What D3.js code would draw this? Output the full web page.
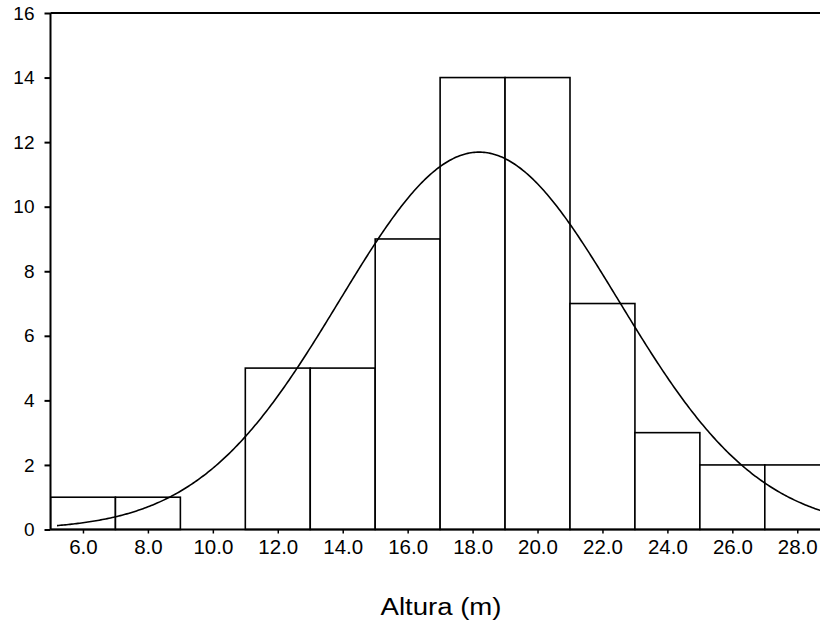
<!DOCTYPE html>
<html>
<head>
<meta charset="utf-8">
<script src="https://cdn.jsdelivr.net/npm/d3@7"></script>
<style>
  html, body { margin: 0; padding: 0; background: #fff; }
  svg { display: block; font-family: "Liberation Sans", Arial, sans-serif; }
</style>
</head>
<body>
<svg id="chart" width="820" height="625"></svg>
<script>
// Histogram bins of tree height (m): lower edge, upper edge, count
const binStarts = [5, 7, 9, 11, 13, 15, 17, 19, 21, 23, 25, 27];
const binEnds   = [7, 9, 11, 13, 15, 17, 19, 21, 23, 25, 27, 29];
const counts    = [1, 1, 0, 5, 5, 9, 14, 14, 7, 3, 2, 2];

// Fitted normal curve parameters
const curveMean = 18.2;
const curveSd = 4.3;
const curveN = 63;
const curveStart = 5.2;

const xTicks = [6, 8, 10, 12, 14, 16, 18, 20, 22, 24, 26, 28];
const yTicks = [0, 2, 4, 6, 8, 10, 12, 14, 16];
const xTitle = "Altura (m)";

const svg = d3.select("#chart");
const plotLeft = 50.5, plotRight = 820, plotTop = 13, plotBottom = 529.5;

const x = d3.scaleLinear().domain([5, 28.7]).range([plotLeft, plotRight]);
const y = d3.scaleLinear().domain([0, 16]).range([plotBottom, plotTop]);

svg.append("defs").append("clipPath").attr("id", "plot")
  .append("rect").attr("x", plotLeft).attr("y", plotTop - 2)
  .attr("width", plotRight - plotLeft).attr("height", plotBottom - plotTop + 4);

const plot = svg.append("g").attr("clip-path", "url(#plot)");

// Bars
const bins = counts.map((c, i) => ({ x0: binStarts[i], x1: binEnds[i], n: c }));
plot.selectAll("rect.bar").data(bins.filter(d => d.n > 0)).join("rect")
  .attr("class", "bar")
  .attr("x", d => x(d.x0))
  .attr("y", d => y(d.n))
  .attr("width", d => x(d.x1) - x(d.x0))
  .attr("height", d => y(0) - y(d.n))
  .attr("fill", "#fff")
  .attr("stroke", "#000")
  .attr("stroke-width", 1.6);

// Normal curve scaled to counts per bin
const binWidth = 2;
const normal = v => curveN * binWidth / (curveSd * Math.sqrt(2 * Math.PI)) *
  Math.exp(-0.5 * Math.pow((v - curveMean) / curveSd, 2));
const xs = d3.range(curveStart, 29.01, 0.05);
plot.append("path")
  .datum(xs)
  .attr("fill", "none")
  .attr("stroke", "#000")
  .attr("stroke-width", 1.6)
  .attr("d", d3.line().x(v => x(v)).y(v => y(normal(v))));

// Top frame line
svg.append("line")
  .attr("x1", plotLeft).attr("x2", plotRight).attr("y1", y(16)).attr("y2", y(16))
  .attr("stroke", "#000").attr("stroke-width", 2);

// Y axis
const yAxis = svg.append("g").attr("transform", `translate(${plotLeft},0)`)
  .call(d3.axisLeft(y).tickValues(yTicks).tickFormat(d3.format("d")).tickSize(6).tickPadding(10));
yAxis.select(".domain").attr("stroke-width", 2).attr("d", `M0,${plotTop}V${plotBottom}`);
yAxis.selectAll(".tick line").attr("stroke-width", 2);
yAxis.selectAll(".tick text").attr("font-size", 19).attr("fill", "#000")
  .attr("font-family", "'Liberation Sans', Arial, sans-serif");

// X axis
const xAxis = svg.append("g").attr("transform", `translate(0,${plotBottom})`)
  .call(d3.axisBottom(x).tickValues(xTicks).tickFormat(d3.format(".1f")).tickSize(4).tickPadding(6));
xAxis.select(".domain").attr("stroke-width", 2).attr("d", `M${plotLeft},0H${plotRight}`);
xAxis.selectAll(".tick line").attr("stroke-width", 1.5);
xAxis.selectAll(".tick text").attr("font-size", 20.5).attr("fill", "#000")
  .attr("font-family", "'Liberation Sans', Arial, sans-serif");

// X axis title
svg.append("text")
  .attr("x", 441).attr("y", 615)
  .attr("text-anchor", "middle")
  .attr("font-size", 23)
  .attr("textLength", 121)
  .attr("lengthAdjust", "spacingAndGlyphs")
  .attr("fill", "#000")
  .text(xTitle);
</script>
</body>
</html>
